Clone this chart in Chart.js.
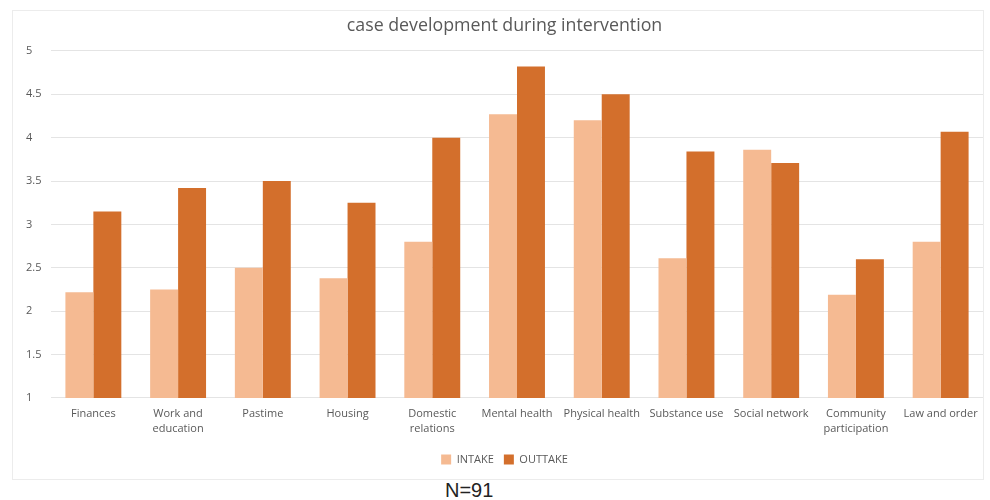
<!DOCTYPE html>
<html>
<head>
<meta charset="utf-8">
<script src="https://cdn.jsdelivr.net/npm/chart.js@4/dist/chart.umd.min.js"></script>
<style>
  html, body { margin: 0; padding: 0; background: #fff; }
  body { width: 990px; height: 500px; position: relative; overflow: hidden; }
  #box { position: absolute; left: 12px; top: 10px; width: 972px; height: 470px;
         border: 1px solid #ececec; box-sizing: border-box; }
  #note { position: absolute; left: 445px; top: 479px; font-family: "Liberation Sans", Arial, sans-serif;
          font-size: 20px; color: #222; }
</style>
</head>
<body>
<div id="box"><canvas id="chart"></canvas></div>
<div id="note">N=91</div>
<script>
// categories and values
const categories = [
    'Finances', ['Work and', 'education'], 'Pastime', 'Housing', ['Domestic', 'relations'],
    'Mental health', 'Physical health', 'Substance use', 'Social network',
    ['Community', 'participation'], 'Law and order'
];
const intake = [2.22, 2.25, 2.50, 2.38, 2.80, 4.27, 4.20, 2.61, 3.86, 2.19, 2.80];
const outtake = [3.15, 3.42, 3.50, 3.25, 4.00, 4.82, 4.50, 3.84, 3.71, 2.60, 4.07];
const yTicks = [1, 1.5, 2, 2.5, 3, 3.5, 4, 4.5, 5];

const tickFont = { family: '"Open Sans", sans-serif', size: 11, lineHeight: 1.4 };

const ctx = document.getElementById('chart').getContext('2d');
new Chart(ctx, {
    type: 'bar',
    data: {
        labels: categories,
        datasets: [
            {
                label: 'INTAKE',
                data: intake,
                backgroundColor: 'rgb(245,186,146)',
                borderWidth: 0
            },
            {
                label: 'OUTTAKE',
                data: outtake,
                backgroundColor: 'rgb(211,111,44)',
                borderWidth: 0
            }
        ]
    },
    options: {
        responsive: true,
        maintainAspectRatio: false,
        animation: false,
        datasets: {
            bar: { barPercentage: 1, categoryPercentage: 0.66 }
        },
        layout: { padding: { left: 13, right: 0, top: 0, bottom: 4 } },
        scales: {
            x: {
                grid: { display: false },
                border: { display: false },
                ticks: { color: '#595959', font: tickFont, maxRotation: 0, autoSkip: false, padding: 0 },
                afterFit: axis => { axis.height = 46; }
            },
            y: {
                min: 1,
                max: 5,
                afterBuildTicks: axis => { axis.ticks = yTicks.map(v => ({ value: v })); },
                afterFit: axis => { axis.width = 25; },
                grid: { color: '#e4e4e4', drawTicks: false },
                border: { display: false },
                ticks: {
                    color: '#595959', font: tickFont, crossAlign: 'far',
                    callback: value => String(value)
                }
            }
        },
        plugins: {
            title: {
                display: true,
                text: 'case development during intervention',
                color: '#595959',
                font: { family: '"Open Sans", sans-serif', size: 17.8, weight: 'normal' },
                padding: { top: 4, bottom: 14.6 }
            },
            legend: {
                position: 'bottom',
                labels: {
                    color: '#595959',
                    font: { family: '"Open Sans", sans-serif', size: 11 },
                    boxWidth: 10,
                    boxHeight: 10,
                    padding: 10
                }
            },
            tooltip: { enabled: false }
        }
    }
});
</script>
</body>
</html>
